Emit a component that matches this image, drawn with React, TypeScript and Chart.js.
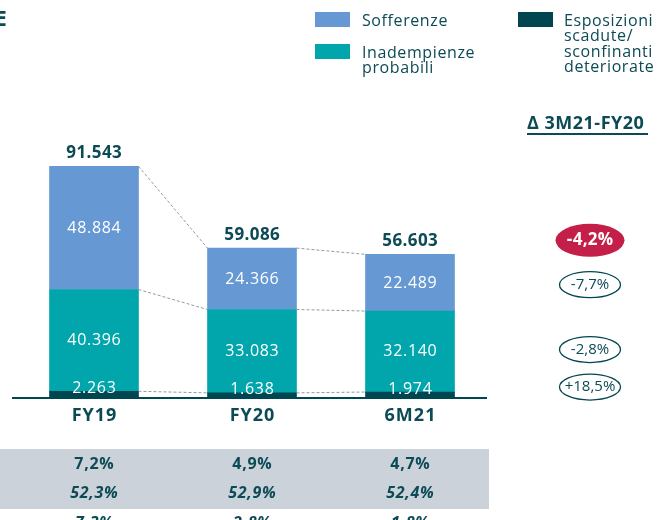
import React, { useEffect, useRef } from "react";
import { Chart, registerables } from "chart.js";
Chart.register(...registerables);

const categories = ["FY19", "FY20", "6M21"];
const sofferenze = [48884, 24366, 22489];
const inadempienze = [40396, 33083, 32140];
const esposizioni = [2263, 1638, 1974];
const totals = [91543, 59086, 56603];
const rowA = ["7,2%", "4,9%", "4,7%"];
const rowB = ["52,3%", "52,9%", "52,4%"];
const rowC = ["7,3%", "2,8%", "1,8%"];
const deltaTitle = "Δ 3M21-FY20";
const deltaTotal = "-4,2%";
const deltaSofferenze = "-7,7%";
const deltaInadempienze = "-2,8%";
const deltaEsposizioni = "+18,5%";

const C_BLUE = "#6699d3";
const C_TEAL = "#00a6ac";
const C_DARK = "#004651";
const C_TEXT = "#0c4a55";
const C_RED = "#c41f48";
const C_GREY = "#cbd2d9";
const FONT = "'Open Sans', sans-serif";

const fmt = (n: number) => n.toString().replace(/\B(?=(\d{3})+(?!\d))/g, ".");

function txt(ctx: CanvasRenderingContext2D, s: string, x: number, y: number, font: string, color: string, align: CanvasTextAlign = "center", spacing = 0) {
  ctx.save();
  ctx.font = font;
  ctx.fillStyle = color;
  ctx.textBaseline = "middle";
  (ctx as any).letterSpacing = spacing + "px";
  let w = ctx.measureText(s).width;
  let sx = x;
  if (align === "center") sx = x - w / 2 + spacing / 2;
  else if (align === "right") sx = x - w;
  ctx.textAlign = "left";
  ctx.fillText(s, sx, y);
  ctx.restore();
}

const overlay = {
  id: "overlay",
  afterDatasetsDraw(chart: any) {
    const ctx: CanvasRenderingContext2D = chart.ctx;
    const y = chart.scales.y;
    const metas = [0, 1, 2].map((i) => chart.getDatasetMeta(i));
    const bars = metas[0].data.map((el: any) => ({ x: el.x, w: el.width }));

    // dashed connectors
    const levels = categories.map((_, i) => [
      esposizioni[i],
      esposizioni[i] + inadempienze[i],
      totals[i],
    ]);
    ctx.save();
    ctx.strokeStyle = "#8d9ca6";
    ctx.lineWidth = 1;
    ctx.setLineDash([3, 2]);
    for (let i = 0; i < categories.length - 1; i++) {
      for (let k = 0; k < 3; k++) {
        ctx.beginPath();
        ctx.moveTo(bars[i].x + bars[i].w / 2, y.getPixelForValue(levels[i][k]));
        ctx.lineTo(bars[i + 1].x - bars[i + 1].w / 2, y.getPixelForValue(levels[i + 1][k]));
        ctx.stroke();
      }
    }
    ctx.restore();

    // axis line
    const base = y.getPixelForValue(0);
    ctx.save();
    ctx.strokeStyle = C_DARK;
    ctx.lineWidth = 2;
    ctx.beginPath();
    ctx.moveTo(12, base + 1);
    ctx.lineTo(487, base + 1);
    ctx.stroke();
    ctx.restore();

    const valFont = `16px ${FONT}`;
    categories.forEach((c, i) => {
      const x = bars[i].x;
      const yTot = y.getPixelForValue(totals[i]);
      const yT = y.getPixelForValue(esposizioni[i] + inadempienze[i]);
      const yD = y.getPixelForValue(esposizioni[i]);
      const ySoff = (yTot + yT) / 2;
      const yIna = (yT + yD) / 2;
      const yEsp = yD - 3;
      txt(ctx, fmt(totals[i]), x, yTot - 13, `bold 17px ${FONT}`, C_TEXT, "center", 0.4);
      txt(ctx, fmt(sofferenze[i]), x, ySoff + 1, valFont, "#ffffff", "center", 0.7);
      txt(ctx, fmt(inadempienze[i]), x, yIna, valFont, "#ffffff", "center", 0.7);
      txt(ctx, fmt(esposizioni[i]), x, yEsp, valFont, "#ffffff", "center", 0.7);
      txt(ctx, c, x, base + 19, `bold 18px ${FONT}`, C_TEXT, "center", 1);

      if (i === categories.length - 1) {
        // delta ellipses
        const ex = 590;
        ctx.save();
        ctx.fillStyle = C_RED;
        ctx.beginPath();
        ctx.ellipse(ex, yTot - 14, 34.5, 16.5, 0, 0, Math.PI * 2);
        ctx.fill();
        ctx.restore();
        txt(ctx, deltaTotal, ex, yTot - 14, `bold 17px ${FONT}`, "#ffffff", "center", 0.3);
        const rings: [string, number][] = [
          [deltaSofferenze, ySoff + 2],
          [deltaInadempienze, yIna - 2],
          [deltaEsposizioni, yEsp - 2],
        ];
        rings.forEach(([s, yy]) => {
          ctx.save();
          ctx.strokeStyle = C_DARK;
          ctx.lineWidth = 1.3;
          ctx.beginPath();
          ctx.ellipse(ex, yy, 30.5, 13, 0, 0, Math.PI * 2);
          ctx.stroke();
          ctx.restore();
          txt(ctx, s, ex, yy, `15px ${FONT}`, C_TEXT, "center", 0);
        });
      }

      // table text
      txt(ctx, rowA[i], x, 464, `bold 16px ${FONT}`, C_TEXT, "center", 0.7);
      txt(ctx, rowB[i], x, 493, `italic bold 16px ${FONT}`, C_TEXT, "center", 0.7);
      txt(ctx, rowC[i], x, 523, `italic bold 16px ${FONT}`, C_TEXT, "center", 0.7);
    });

    // delta title
    txt(ctx, deltaTitle, 527, 124, `bold 18px ${FONT}`, C_TEXT, "left", 0.5);
    ctx.save();
    ctx.fillStyle = C_TEXT;
    ctx.fillRect(527, 133, 121, 2);
    ctx.restore();

    // legend
    const lf = `16px ${FONT}`;
    ctx.save();
    ctx.fillStyle = C_BLUE;
    ctx.fillRect(315, 12, 35, 15);
    ctx.fillStyle = C_TEAL;
    ctx.fillRect(315, 44, 35, 15);
    ctx.fillStyle = C_DARK;
    ctx.fillRect(518, 12, 35, 15);
    ctx.restore();
    txt(ctx, "Sofferenze", 362, 21, lf, C_TEXT, "left", 0.6);
    txt(ctx, "Inadempienze", 362, 53, lf, C_TEXT, "left", 0.6);
    txt(ctx, "probabili", 362, 68, lf, C_TEXT, "left", 0.6);
    ["Esposizioni", "scadute/", "sconfinanti", "deteriorate"].forEach((s, k) => {
      txt(ctx, s, 564, 21 + k * 15.5, lf, C_TEXT, "left", 0.6);
    });

    // cut-off title letter
    txt(ctx, "E", -5, 20, `bold 21px ${FONT}`, C_TEXT, "left", 0);
  },
  beforeDatasetsDraw(chart: any) {
    const ctx: CanvasRenderingContext2D = chart.ctx;
    ctx.save();
    ctx.fillStyle = C_GREY;
    ctx.fillRect(0, 449, 489, 60);
    ctx.restore();
  },
};

export default function App() {
  const ref = useRef<HTMLCanvasElement>(null);
  useEffect(() => {
    const chart = new Chart(ref.current!, {
      type: "bar",
      data: {
        labels: categories,
        datasets: [
          { label: "Esposizioni scadute/sconfinanti deteriorate", data: esposizioni, backgroundColor: C_DARK, barThickness: 89 },
          { label: "Inadempienze probabili", data: inadempienze, backgroundColor: C_TEAL, barThickness: 89 },
          { label: "Sofferenze", data: sofferenze, backgroundColor: C_BLUE, barThickness: 89 },
        ],
      },
      options: {
        responsive: false,
        animation: false,
        layout: { padding: { left: 15, right: 181, top: 145, bottom: 123 } },
        plugins: { legend: { display: false }, tooltip: { enabled: false } },
        scales: {
          x: { stacked: true, display: false },
          y: { stacked: true, display: false, min: 0, max: 100000 },
        },
      },
      plugins: [overlay],
    });
    return () => chart.destroy();
  }, []);
  return (
    <div style={{ position: "absolute", left: 0, top: 0, width: 670, height: 520, overflow: "hidden", background: "#fff" }}>
      <canvas ref={ref} width={670} height={520} style={{ display: "block" }} />
    </div>
  );
}
